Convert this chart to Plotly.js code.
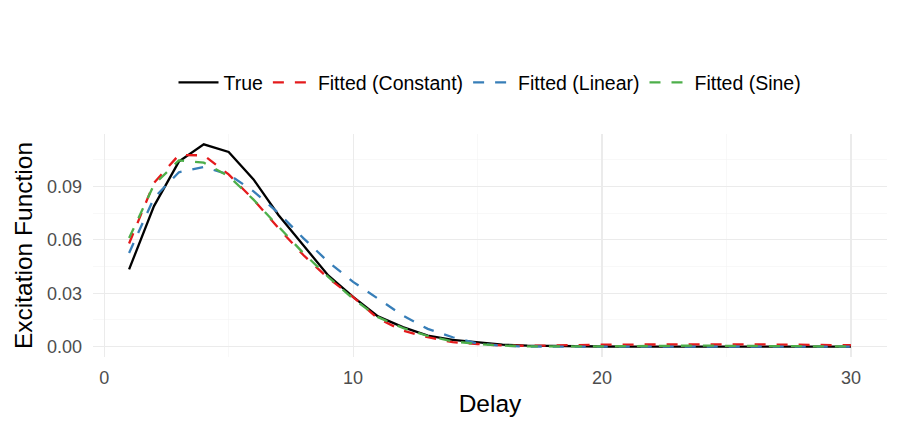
<!DOCTYPE html>
<html>
<head>
<meta charset="utf-8">
<script src="https://cdn.plot.ly/plotly-3.0.1.min.js"></script>
<style>html,body{margin:0;padding:0;background:#fff;}#chart{width:900px;height:431px;}</style>
</head>
<body>
<div id="chart"></div>
<script>
const delay = [1,2,3,4,5,6,7,8,9,10,11,12,13,14,15,16,17,18,19,20,21,22,23,24,25,26,27,28,29,30];
const trueVals = [0.0434,0.079,0.104,0.1137,0.1094,0.094,0.074,0.057,0.040,0.028,0.017,0.011,0.0062,0.0038,0.0023,0.0011,0.0006,0.0003,0.0002,0.0001,0,0,0,0,0,0,0,0,0,0];
const constVals = [0.058,0.092,0.1077,0.1075,0.0968,0.0826,0.0666,0.0515,0.0385,0.0279,0.0158,0.009,0.0053,0.0025,0.0015,0.0007,0.0005,0.0008,0.001,0.0011,0.0012,0.0013,0.0014,0.0014,0.0014,0.0013,0.0012,0.0011,0.001,0.0008];
const linearVals = [0.0526,0.0836,0.098,0.1009,0.0968,0.0873,0.0751,0.061,0.0477,0.0364,0.027,0.0175,0.010,0.0053,0.0017,0.0005,0.0001,0,0,0,0,0,0,0,0,0,0,0,0,0];
const sineVals = [0.061,0.091,0.1047,0.1034,0.0958,0.0826,0.0675,0.0526,0.0392,0.027,0.0166,0.0105,0.006,0.003,0.0015,0.0006,0.0002,0.0001,0.0001,0.0002,0.0003,0.0005,0.0006,0.0006,0.0005,0.0004,0.0003,0.0002,0.0001,0.0001];
const seriesNames = ['True','Fitted (Constant)','Fitted (Linear)','Fitted (Sine)'];
const seriesColors = ['#000000','#E41A1C','#377EB8','#4DAF4A'];
const seriesData = [trueVals, constVals, linearVals, sineVals];

const traces = seriesData.map((ys, i) => ({
  x: delay, y: ys, type: 'scatter', mode: 'lines', name: seriesNames[i],
  line: {color: seriesColors[i], width: 2.3, dash: i === 0 ? 'solid' : '11px,11px'}
}));

const font = 'Liberation Sans, Arial, sans-serif';
const layout = {
  width: 900, height: 431,
  margin: {l: 93, r: 13, t: 134, b: 74},
  paper_bgcolor: '#fff', plot_bgcolor: '#fff',
  font: {family: font, color: '#000'},
  showlegend: true,
  legend: {orientation: 'h', x: 0.5, xanchor: 'center', y: 1.23, yanchor: 'middle',
    font: {size: 19.5, family: font, color: '#000'}, itemwidth: 40, traceorder: 'normal'},
  xaxis: {
    range: [-0.45, 31.45], tickvals: [0,10,20,30], ticktext: ['0','10','20','30'],
    showgrid: true, gridcolor: '#ebebeb', gridwidth: 1.2, zeroline: false, showline: false,
    ticks: '', ticklabelstandoff: 8,
    tickfont: {size: 18, color: '#4d4d4d', family: font},
    minor: {tickvals: [5,15,25], showgrid: true, gridcolor: '#f3f3f3', gridwidth: 0.6},
    title: {text: 'Delay', font: {size: 24.5, color: '#000', family: font}, standoff: 7}
  },
  yaxis: {
    range: [-0.0058, 0.1195], tickvals: [0,0.03,0.06,0.09], ticktext: ['0.00','0.03','0.06','0.09'],
    showgrid: true, gridcolor: '#ebebeb', gridwidth: 1.2, zeroline: false, showline: false,
    ticks: '', ticklabelstandoff: 10,
    tickfont: {size: 18, color: '#4d4d4d', family: font},
    minor: {tickvals: [0.015,0.045,0.075,0.105], showgrid: true, gridcolor: '#f3f3f3', gridwidth: 0.6},
    title: {text: 'Excitation Function', font: {size: 24.5, color: '#000', family: font}, standoff: 7}
  }
};
Plotly.newPlot('chart', traces, layout, {staticPlot: true, displayModeBar: false});
</script>
</body>
</html>
